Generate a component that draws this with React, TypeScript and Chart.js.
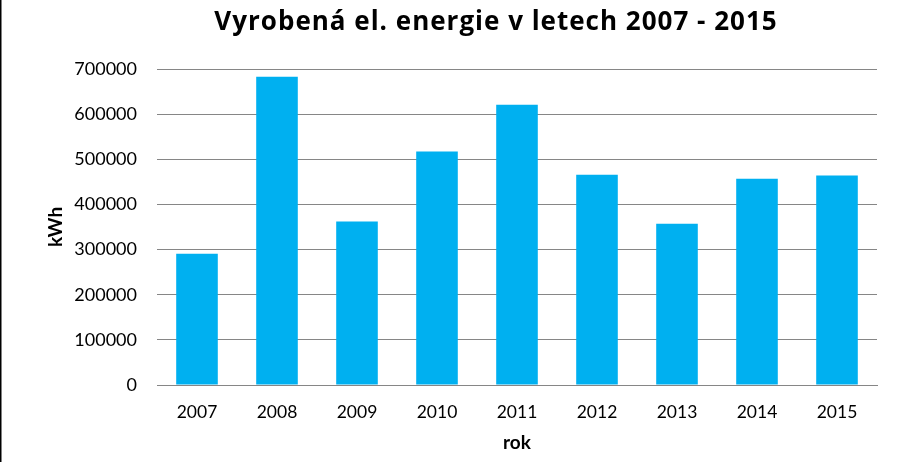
import React, { useEffect, useRef } from "react";
import { Chart, registerables } from "chart.js";

Chart.register(...registerables);

const years = ["2007", "2008", "2009", "2010", "2011", "2012", "2013", "2014", "2015"];
const production = [291000, 683000, 362000, 517000, 621000, 466000, 357000, 457000, 464000];
const yTicks = [0, 100000, 200000, 300000, 400000, 500000, 600000, 700000];
const titleText = "Vyrobená el. energie v letech 2007 - 2015";
const yTitle = "kWh";
const xTitle = "rok";

const FONT = "Lato, 'Open Sans', sans-serif";
const TITLE_FONT = "bold 26px 'Open Sans', Lato, sans-serif";

export default function App() {
  const ref = useRef<HTMLCanvasElement | null>(null);

  useEffect(() => {
    if (!ref.current) return;
    const frame = {
      id: "frame",
      beforeDraw(chart: any) {
        const ctx = chart.ctx;
        ctx.save();
        ctx.fillStyle = "#ffffff";
        ctx.fillRect(0, 0, chart.width, chart.height);
        ctx.strokeStyle = "#000000";
        ctx.lineWidth = 1.5;
        ctx.beginPath();
        ctx.moveTo(0.75, 0);
        ctx.lineTo(0.75, chart.height);
        ctx.stroke();
        ctx.restore();
      },
      afterDraw(chart: any) {
        const ctx = chart.ctx;
        ctx.save();
        ctx.fillStyle = "#000000";
        ctx.font = TITLE_FONT;
        try {
          (ctx as any).letterSpacing = "1px";
        } catch (e) {}
        ctx.textAlign = "center";
        ctx.textBaseline = "alphabetic";
        ctx.fillText(titleText, 496, 30);
        ctx.restore();
      },
    };
    const chart = new Chart(ref.current, {
      type: "bar",
      data: {
        labels: years,
        datasets: [
          {
            data: production,
            backgroundColor: "#00B0F0",
            borderWidth: 0,
            categoryPercentage: 1,
            barPercentage: 0.52,
          },
        ],
      },
      options: {
        responsive: false,
        animation: false,
        layout: { padding: { left: 0, right: 41, top: 69, bottom: 0 } },
        plugins: {
          legend: { display: false },
          tooltip: { enabled: false },
          title: { display: false },
        },
        scales: {
          x: {
            grid: { display: false, drawTicks: false },
            border: { display: true, color: "#868686", width: 1 },
            ticks: { color: "#000000", font: { family: FONT, size: 17.5 }, padding: 17 },
            title: {
              display: true,
              text: xTitle,
              color: "#000000",
              font: { family: FONT, size: 19, weight: "bold", lineHeight: 1.2 },
              padding: { top: 0, bottom: 8 },
            },
            afterFit(scale: any) {
              scale.height = 77;
            },
          },
          y: {
            min: 0,
            max: 700000,
            afterBuildTicks(scale: any) {
              scale.ticks = yTicks.map((v) => ({ value: v }));
            },
            grid: { color: "#868686", lineWidth: 1, drawTicks: false },
            border: { display: false },
            ticks: {
              color: "#000000",
              font: { family: FONT, size: 18 },
              padding: 20,
              callback: (v: any) => String(v),
            },
            title: {
              display: true,
              text: yTitle,
              color: "#000000",
              font: { family: FONT, size: 19, weight: "bold", lineHeight: 1.2 },
              padding: { top: 44, bottom: 0 },
            },
            afterFit(scale: any) {
              scale.width = 157;
            },
          },
        },
      },
      plugins: [frame],
    });
    return () => chart.destroy();
  }, []);

  return (
    <div style={{ position: "absolute", left: 0, top: 0, width: 918, height: 462, background: "#fff" }}>
      <canvas ref={ref} width={918} height={462} />
    </div>
  );
}
